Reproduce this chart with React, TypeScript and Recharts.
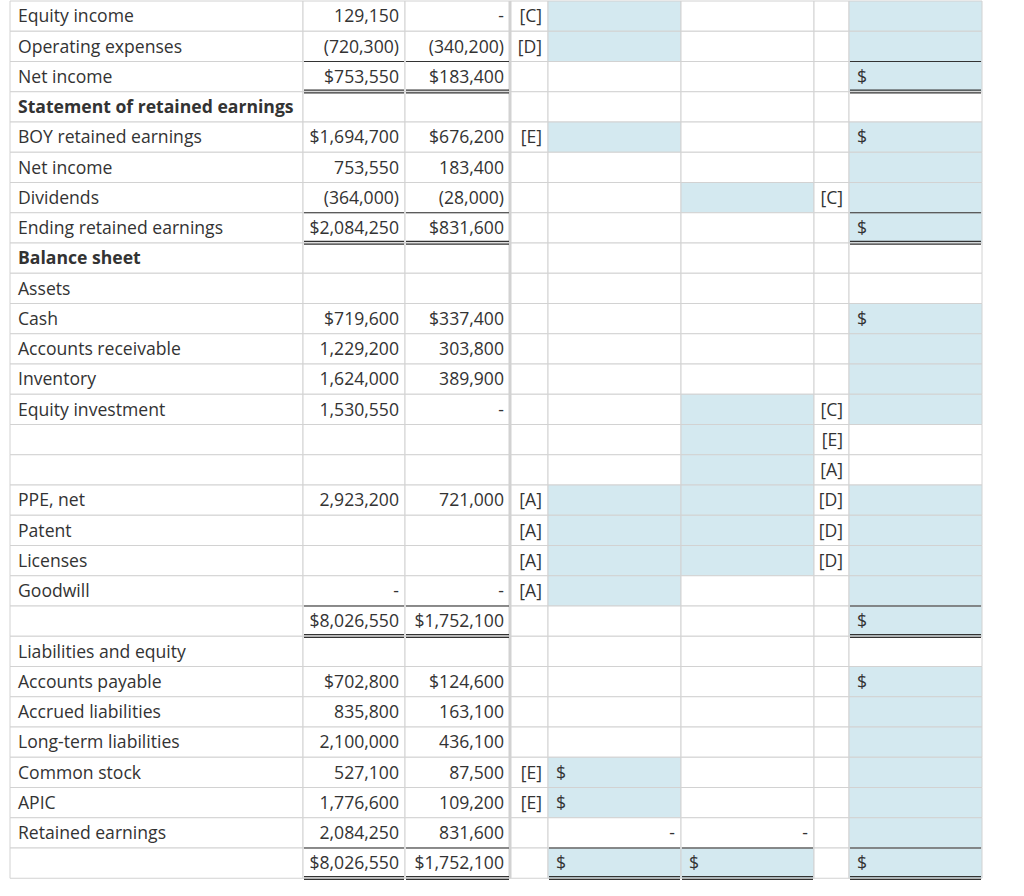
import { ComposedChart, XAxis, YAxis, ReferenceArea, ReferenceLine } from "recharts";

// row captions of the worksheet
const rowLabels = [
  "Equity income", "Operating expenses", "Net income", "Statement of retained earnings",
  "BOY retained earnings", "Net income", "Dividends", "Ending retained earnings",
  "Balance sheet", "Assets", "Cash", "Accounts receivable", "Inventory", "Equity investment",
  "", "", "PPE, net", "Patent", "Licenses", "Goodwill", "",
  "Liabilities and equity", "Accounts payable", "Accrued liabilities", "Long-term liabilities",
  "Common stock", "APIC", "Retained earnings", "",
];
const boldRows = [3, 8];

const parentVals = [
  "129,150", "(720,300)", "$753,550", "", "$1,694,700", "753,550", "(364,000)", "$2,084,250",
  "", "", "$719,600", "1,229,200", "1,624,000", "1,530,550", "", "", "2,923,200", "", "", "-",
  "$8,026,550", "", "$702,800", "835,800", "2,100,000", "527,100", "1,776,600", "2,084,250", "$8,026,550",
];
const subVals = [
  "-", "(340,200)", "$183,400", "", "$676,200", "183,400", "(28,000)", "$831,600",
  "", "", "$337,400", "303,800", "389,900", "-", "", "", "721,000", "", "", "-",
  "$1,752,100", "", "$124,600", "163,100", "436,100", "87,500", "109,200", "831,600", "$1,752,100",
];
const debitRefs = [
  "[C]", "[D]", "", "", "[E]", "", "", "", "", "", "", "", "", "", "", "", "[A]", "[A]", "[A]", "[A]",
  "", "", "", "", "", "[E]", "[E]", "", "",
];
const debitText: Record<number, string> = { 25: "$", 26: "$", 27: "-", 28: "$" };
const debitInputs = [0, 1, 4, 16, 17, 18, 19, 25, 26, 28];
const creditRefs = [
  "", "", "", "", "", "", "[C]", "", "", "", "", "", "", "[C]", "[E]", "[A]", "[D]", "[D]", "[D]", "",
  "", "", "", "", "", "", "", "", "",
];
const creditText: Record<number, string> = { 27: "-", 28: "$" };
const creditInputs = [6, 13, 14, 15, 16, 17, 18, 28];
const consolText: Record<number, string> = { 2: "$", 4: "$", 7: "$", 10: "$", 20: "$", 22: "$", 28: "$" };
const consolInputs = [0, 1, 2, 4, 5, 6, 7, 10, 11, 12, 13, 16, 17, 18, 19, 20, 22, 23, 24, 25, 26, 27, 28];

// total rows: single rule above, double rule below
const totalRows = [2, 7, 20, 28];

// layout
const W = 1024;
const H = 896;
const ROW_PX = 30.25;
const edges = [10, 303, 405, 510, 548, 681, 814, 849, 982];
const BLUE = "#d4e9f0";
const GRID = "#d2d2d2";
const INK = "#333333";
const FONT = "'Open Sans', sans-serif";
const FONT_SIZE = 17.6;
const nRows = rowLabels.length;

type Cell = { col: number; row: number; text: string; align: "left" | "right"; fill: string; bold?: boolean };

const cells: Cell[] = [];
for (let r = 0; r < nRows; r++) {
  cells.push({ col: 0, row: r, text: rowLabels[r], align: "left", fill: "#fff", bold: boldRows.includes(r) });
  cells.push({ col: 1, row: r, text: parentVals[r], align: "right", fill: "#fff" });
  cells.push({ col: 2, row: r, text: subVals[r], align: "right", fill: "#fff" });
  cells.push({ col: 3, row: r, text: debitRefs[r], align: "right", fill: "#fff" });
  const d = debitText[r] || "";
  cells.push({ col: 4, row: r, text: d, align: d === "$" ? "left" : "right", fill: debitInputs.includes(r) ? BLUE : "#fff" });
  const c = creditText[r] || "";
  cells.push({ col: 5, row: r, text: c, align: c === "$" ? "left" : "right", fill: creditInputs.includes(r) ? BLUE : "#fff" });
  cells.push({ col: 6, row: r, text: creditRefs[r], align: "right", fill: "#fff" });
  cells.push({ col: 7, row: r, text: consolText[r] || "", align: "left", fill: consolInputs.includes(r) ? BLUE : "#fff" });
}

const ruleCols = (r: number) => (r === 28 ? [1, 2, 4, 5, 7] : [1, 2, 7]);
const rules: { x1: number; x2: number; y: number; w: number }[] = [];
totalRows.forEach((r) => {
  ruleCols(r).forEach((c) => {
    const x1 = edges[c] + 1;
    const x2 = edges[c + 1] - 1;
    rules.push({ x1, x2, y: r, w: 1.2 });
    rules.push({ x1, x2, y: r + 1 - 1.6 / ROW_PX, w: 1.2 });
    rules.push({ x1, x2, y: r + 1 + 1.2 / ROW_PX, w: 1.2 });
  });
});

const yMin = -1 / ROW_PX;
const yMax = yMin + H / ROW_PX;

export default function App() {
  return (
    <div style={{ position: "absolute", left: 0, top: 0, width: W, height: H, background: "#fff" }}>
      <ComposedChart width={W} height={H} margin={{ top: 0, right: 0, bottom: 0, left: 0 }}>
        <XAxis type="number" dataKey="x" domain={[0, W]} hide allowDataOverflow />
        <YAxis type="number" dataKey="y" domain={[yMin, yMax]} reversed hide allowDataOverflow />
        {cells.map((c) => (
          <ReferenceArea
            key={`c-${c.col}-${c.row}`}
            x1={edges[c.col]}
            x2={edges[c.col + 1]}
            y1={c.row}
            y2={c.row + 1}
            fill={c.fill}
            fillOpacity={1}
            stroke={GRID}
            strokeWidth={1}
            label={
              c.text
                ? {
                    value: c.text,
                    position: c.align === "left" ? "insideLeft" : "insideRight",
                    offset: c.align === "left" ? 8 : 6,
                    fill: INK,
                    fontSize: FONT_SIZE,
                    fontFamily: FONT,
                    fontWeight: c.bold ? 700 : 400,
                  }
                : undefined
            }
          />
        ))}
        <ReferenceLine
          segment={[{ x: edges[3], y: 0 }, { x: edges[3], y: nRows }]}
          stroke={GRID}
          strokeWidth={3}
        />
        {rules.map((l, i) => (
          <ReferenceLine
            key={`r-${i}`}
            segment={[{ x: l.x1, y: l.y }, { x: l.x2, y: l.y }]}
            stroke={INK}
            strokeWidth={l.w}
          />
        ))}
      </ComposedChart>
    </div>
  );
}
